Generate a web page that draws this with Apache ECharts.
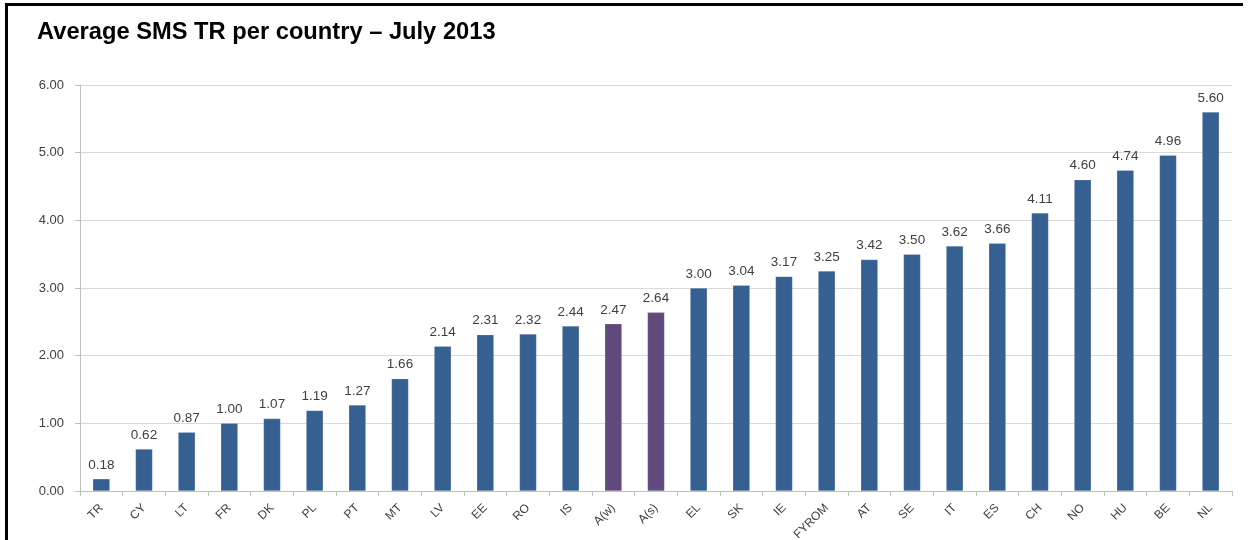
<!DOCTYPE html>
<html>
<head>
<meta charset="utf-8">
<script src="https://cdn.jsdelivr.net/npm/echarts@6/dist/echarts.min.js"></script>
<style>
html,body{margin:0;padding:0;background:#fff;}
#c{width:1253px;height:540px;}
</style>
</head>
<body>
<div id="c"></div>
<script>
var titleText = "Average SMS TR per country – July 2013";
var categories = ["TR","CY","LT","FR","DK","PL","PT","MT","LV","EE","RO","IS","A(w)","A(s)","EL","SK","IE","FYROM","AT","SE","IT","ES","CH","NO","HU","BE","NL"];
var values = [0.18,0.62,0.87,1.00,1.07,1.19,1.27,1.66,2.14,2.31,2.32,2.44,2.47,2.64,3.00,3.04,3.17,3.25,3.42,3.50,3.62,3.66,4.11,4.60,4.74,4.96,5.60];
var highlighted = ["A(w)","A(s)"];
var yTicks = [0,1,2,3,4,5,6];

var blue = '#376092';
var purple = '#604A7B';

var chart = echarts.init(document.getElementById('c'), null, {renderer:'canvas'});
chart.setOption({
  backgroundColor:'#fff',
  animation:false,
  title:{
    text:titleText,
    left:32, top:15,
    textStyle:{fontFamily:'Liberation Sans, Arial, sans-serif', fontWeight:'bold', fontSize:23.7, color:'#000'}
  },
  graphic:[{
    type:'polyline',
    shape:{points:[[6.5,540],[6.5,4.5],[1243,4.5]]},
    style:{stroke:'#000', lineWidth:3, fill:null}
  }],
  grid:{left:80, right:21, top:85, bottom:49, containLabel:false, outerBoundsMode:'none'},
  xAxis:{
    type:'category',
    data:categories,
    axisLine:{lineStyle:{color:'#BFBFBF'}},
    axisTick:{show:true, alignWithLabel:false, length:5, lineStyle:{color:'#BFBFBF'}},
    axisLabel:{rotate:45, margin:15, interval:0, color:'#404040', fontSize:12, fontFamily:'Liberation Sans, Arial, sans-serif'}
  },
  yAxis:{
    type:'value',
    min:0, max:6, interval:1,
    axisLine:{show:true, lineStyle:{color:'#BFBFBF'}},
    axisTick:{show:true, length:5, lineStyle:{color:'#BFBFBF'}},
    splitLine:{lineStyle:{color:'#D9D9D9'}},
    axisLabel:{margin:16, color:'#404040', fontSize:13, fontFamily:'Liberation Sans, Arial, sans-serif',
      formatter:function(v){return v.toFixed(2);}}
  },
  series:[{
    type:'bar',
    barWidth:'40%',
    data:categories.map(function(c,i){
      return {value:values[i], itemStyle:{color: highlighted.indexOf(c)>=0 ? purple : blue}};
    }),
    itemStyle:{borderColor:'rgba(255,255,255,0.35)', borderWidth:0.5},
    label:{show:true, position:'top', distance:7, color:'#404040', fontSize:13.5,
      fontFamily:'Liberation Sans, Arial, sans-serif',
      formatter:function(p){return p.value.toFixed(2);}}
  }]
});
</script>
</body>
</html>
